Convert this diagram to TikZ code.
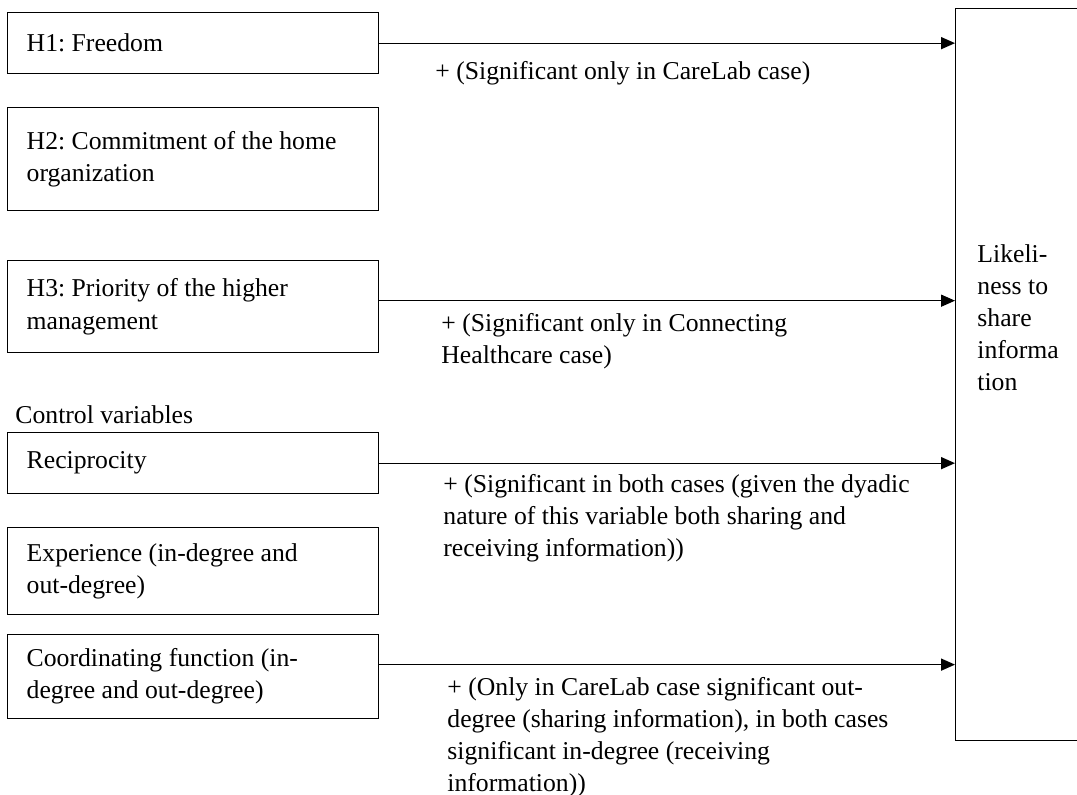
\documentclass[tikz,border=0pt]{standalone}
\usepackage{fontspec}
\setmainfont{Liberation Serif}
\usetikzlibrary{arrows.meta, positioning}
\frenchspacing

\begin{document}
\begin{tikzpicture}[x=0.467pt, y=-0.467pt,
  every node/.style={font=\fontsize{12}{15}\selectfont},
  varbox/.style={draw, line width=0.6pt, anchor=north west, minimum width=173.3pt, text width=155.5pt, inner xsep=8.9pt, inner ysep=2pt, align=flush left},
  effect/.style={anchor=north west, inner sep=0pt, align=left},
  link/.style={-{Triangle[length=6.5pt, width=5.6pt]}, line width=0.6pt}]
\useasboundingbox (0,0) rectangle (1077,795);
\clip (0,0) rectangle (1077,795);

% Hypotheses
\node[varbox, minimum height=28.5pt] (h1) at (7,12) {H1: Freedom};
\node[varbox, minimum height=48.1pt] (h2) at (7,107) {H2: Commitment of the home\\organization};
\node[varbox, minimum height=43pt] (h3) at (7,260) {H3: Priority of the higher\\management};

% Control variables
\node[anchor=base west, inner sep=0pt] (ctrl) at (15,423) {Control variables};
\node[varbox, minimum height=28.5pt] (rec) at (7,432) {Reciprocity};
\node[varbox, minimum height=40.6pt] (exp) at (7,527) {Experience (in-degree and\\out-degree)};
\node[varbox, minimum height=39.2pt] (coord) at (7,634) {Coordinating function (in-\\degree and out-degree)};

% Outcome box
\node[draw, line width=0.6pt, anchor=north west, minimum width=67.7pt, minimum height=341.8pt, inner sep=0pt] (share) at (955,8) {};
\node[effect] (sharetxt) at (977,244) {Likeli-\\ness to\\share\\informa\\tion};

% Effects
\draw[link] (h1.east) -- (h1.east -| share.west);
\draw[link] ([yshift=2.8pt]h3.east) -- ([yshift=2.8pt]h3.east -| share.west);
\draw[link] (rec.east) -- (rec.east -| share.west);
\draw[link] ([yshift=5.6pt]coord.east) -- ([yshift=5.6pt]coord.east -| share.west);

\node[effect] (l1) at (435,61) {+ (Significant only in CareLab case)};
\node[effect] (l3) at (441,313) {+ (Significant only in Connecting\\Healthcare case)};
\node[effect] (lrec) at (443,474) {+ (Significant in both cases (given the dyadic\\nature of this variable both sharing and\\receiving information))};
\node[effect] (lcoord) at (447,677) {+ (Only in CareLab case significant out-\\degree (sharing information), in both cases\\significant in-degree (receiving\\information))};
\end{tikzpicture}
\end{document}
